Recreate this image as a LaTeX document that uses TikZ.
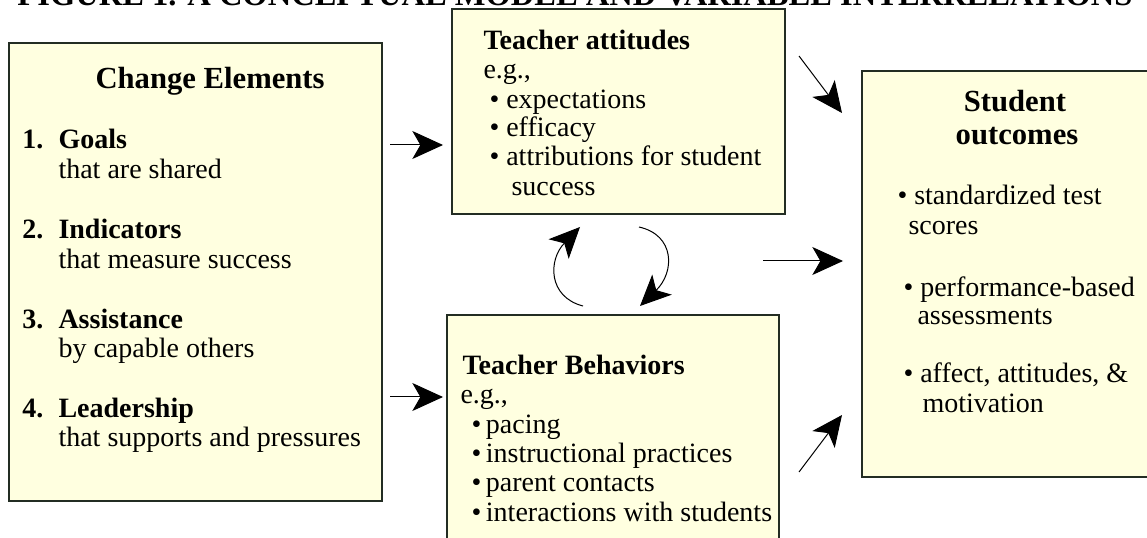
\documentclass[tikz,border=0pt]{standalone}
\usepackage{fontspec}
\setmainfont{Liberation Serif}
\usetikzlibrary{arrows.meta,fit}

\definecolor{boxfill}{RGB}{255,255,224}
\definecolor{boxline}{RGB}{35,45,35}

\tikzset{every picture/.style={line width=0.75pt}}
\tikzset{
  box/.style={draw=boxline, fill=boxfill, line width=1.5pt, inner sep=0pt},
  txt/.style={anchor=base west, inner sep=0pt, font=\fontsize{21}{25}\selectfont},
  boldtxt/.style={anchor=base west, inner sep=0pt, font=\fontsize{21}{25}\selectfont\bfseries},
  headtxt/.style={anchor=base, inner sep=0pt, font=\fontsize{23}{27}\selectfont\bfseries},
  bigarrow/.style={-{Stealth[length=23pt,width=21pt,inset=6pt]}, line width=0.75pt},
}

\begin{document}
\begin{tikzpicture}[x=0.75pt,y=0.75pt,yscale=-1,xscale=1]
	\useasboundingbox (0,0) rectangle (1147,538);
	\clip (0,0) rectangle (1147,538);
	\fill[white] (0,0) rectangle (1147,538);

	% Title (cut at the top)
	\draw (17,5.5) node[anchor=base west, inner sep=0pt, font=\fontsize{24.4}{28}\selectfont\bfseries] (figtitle) {FIGURE 1. A CONCEPTUAL MODEL AND VARIABLE INTERRELATIONS};

	%Shape: Rectangle [change elements]
	\node[box, fit={(9,43) (382,501)}] (change) {};
	%Shape: Rectangle [teacher attitudes]
	\node[box, fit={(452,9) (785,214)}] (attitudes) {};
	%Shape: Rectangle [teacher behaviors]
	\node[box, fit={(447,315) (779,548)}] (behaviors) {};
	%Shape: Rectangle [student outcomes]
	\node[box, fit={(862,71) (1156,477)}] (outcomes) {};

	% Text Node
	\draw (95,89) node[headtxt, anchor=base west] (changetitle) {Change Elements};
	% Text Node
	\draw (22,149) node[boldtxt] (numa) {1.};
	\draw (58,149) node[boldtxt] (goals) {Goals};
	\draw (58,179) node[txt] (goalsnote) {that are shared};
	% Text Node
	\draw (22,239) node[boldtxt] (numb) {2.};
	\draw (58,239) node[boldtxt] (indicators) {Indicators};
	\draw (58,269) node[txt] (indicatorsnote) {that measure success};
	% Text Node
	\draw (22,329) node[boldtxt] (numc) {3.};
	\draw (58,329) node[boldtxt] (assistance) {Assistance};
	\draw (58,358) node[txt] (assistancenote) {by capable others};
	% Text Node
	\draw (22,418) node[boldtxt] (numd) {4.};
	\draw (58,418) node[boldtxt] (leadership) {Leadership};
	\draw (58,447) node[txt] (leadershipnote) {that supports and pressures};

	% Text Node
	\draw (483,50) node[boldtxt] (attitudestitle) {Teacher attitudes};
	\draw (483,79) node[txt] (attitudeseg) {e.g.,};
	\draw (489,109) node[txt] (expectations) {\textbullet{} expectations};
	\draw (489,137) node[txt] (efficacy) {\textbullet{} efficacy};
	\draw (489,166) node[txt] (attributions) {\textbullet{} attributions for student};
	\draw (511,196) node[txt] (attributionsb) {success};

	% Text Node
	\draw (462,375) node[boldtxt] (behaviorstitle) {Teacher Behaviors};
	\draw (460,404) node[txt] (behaviorseg) {e.g.,};
	\draw (471,434) node[txt] (pacing) {\textbullet\,pacing};
	\draw (471,463) node[txt] (practices) {\textbullet\,instructional practices};
	\draw (471,492) node[txt] (contacts) {\textbullet\,parent contacts};
	\draw (471,521) node[txt] (interactions) {\textbullet\,interactions with students};

	% Text Node
	\draw (1015,112) node[headtxt] (outcomestitle) {Student};
	\draw (1017,145) node[headtxt] (outcomestitleb) {outcomes};
	\draw (897,205) node[txt] (scores) {\textbullet{} standardized test};
	\draw (908,235) node[txt] (scoresb) {scores};
	\draw (903,297) node[txt] (performance) {\textbullet{} performance-based};
	\draw (917,325) node[txt] (performanceb) {assessments};
	\draw (903,383) node[txt] (affect) {\textbullet{} affect, attitudes, \&};
	\draw (922,413) node[txt] (affectb) {motivation};

	% Arrow ends
	\coordinate (goalsfrom) at (390,145);
	\coordinate (goalsto) at (443,145);
	\coordinate (leadfrom) at (390,397);
	\coordinate (leadto) at (443,397);
	\coordinate (upperfrom) at (799,56);
	\coordinate (upperto) at (842,113);
	\coordinate (midfrom) at (763,261);
	\coordinate (midto) at (843,261);
	\coordinate (lowerfrom) at (799,472);
	\coordinate (lowerto) at (842,415);
	\coordinate (loopupfrom) at (583,306);
	\coordinate (loopupto) at (580,227);
	\coordinate (loopdownfrom) at (639,227);
	\coordinate (loopdownto) at (640,306);

	%Straight Lines
	\draw[bigarrow] (goalsfrom) -- (goalsto);
	\draw[bigarrow] (leadfrom) -- (leadto);
	\draw[bigarrow] (upperfrom) -- (upperto);
	\draw[bigarrow] (midfrom) -- (midto);
	\draw[bigarrow] (lowerfrom) -- (lowerto);
	%Curve Lines
	\draw[bigarrow] (loopupfrom) .. controls (548,297) and (548,260) .. (loopupto);
	\draw[bigarrow] (loopdownfrom) .. controls (675,235) and (675,272) .. (loopdownto);

\end{tikzpicture}
\end{document}
